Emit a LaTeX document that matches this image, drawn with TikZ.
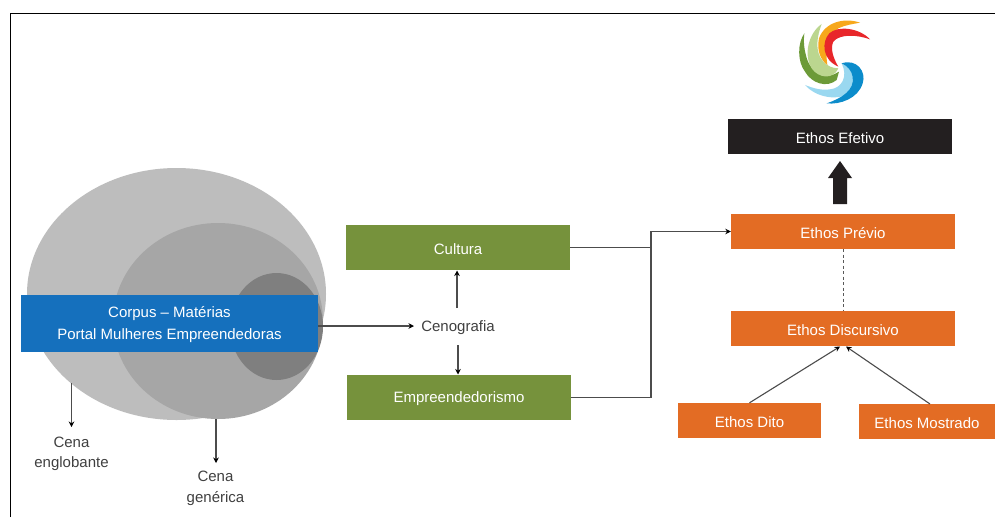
\documentclass[tikz,border=0pt]{standalone}
\usepackage{fontspec}
\setmainfont{Liberation Sans}
\usetikzlibrary{arrows.meta,shapes.geometric}
\definecolor{eo}{HTML}{E36C24}
\definecolor{eg}{HTML}{76923C}
\definecolor{eb}{HTML}{1570BD}
\definecolor{ek}{HTML}{231F20}
\definecolor{tc}{HTML}{404040}
\definecolor{gA}{HTML}{BDBDBD}
\definecolor{gB}{HTML}{A6A6A6}
\definecolor{gC}{HTML}{7F7F7F}
\definecolor{lgd}{HTML}{6C9A38}
\definecolor{lgl}{HTML}{BBD68F}
\definecolor{lor}{HTML}{F7A81B}
\definecolor{lre}{HTML}{E8262A}
\definecolor{lbl}{HTML}{0C8CCB}
\definecolor{lbk}{HTML}{9AD8F0}
\newcommand{\dnt}[1]{\raisebox{-1.5pt}[\height][\depth]{#1}}
\tikzset{
 flatbox/.style={draw=none,inner sep=0pt,text=white,font=\fontsize{15}{22}\selectfont,align=center},
 bub/.style={ellipse,draw=none,inner sep=0pt},
 lab/.style={inner sep=0pt,text=tc,font=\fontsize{15}{20.5}\selectfont,align=center},
 conn/.style={draw=black!70,line width=1.1pt,-{Stealth[length=5.5pt,width=5.5pt,black]}},
 plain/.style={draw=black!70,line width=1.1pt}
}
\begin{document}
\begin{tikzpicture}[x=1pt,y=-1pt]
\useasboundingbox (0,0) rectangle (995,517);
\fill[white] (0,0) rectangle (995,517);
\coordinate (frameA) at (10,517);
\coordinate (frameB) at (10,13);
\coordinate (frameC) at (995,13);
\draw[black,line width=1pt] (frameA) -- (frameB) -- (frameC);
% nested ellipses
\node[bub,fill=gA,minimum width=299pt,minimum height=252pt] (outer) at (176.5,294) {};
\node[bub,fill=gB,minimum width=210pt,minimum height=196pt] (mid) at (218,321) {};
\node[bub,fill=gC,minimum width=93pt,minimum height=107pt] (inner) at (276.5,326.5) {};
\node[flatbox,fill=eb,minimum width=297pt,minimum height=57pt] (corpus) at (169.5,323.5) {\dnt{Corpus – Matérias}\\\dnt{Portal Mulheres Empreendedoras}};
% green
\node[flatbox,fill=eg,minimum width=224pt,minimum height=45pt] (cultura) at (458,247.5) {\dnt{Cultura}};
\node[flatbox,fill=eg,minimum width=224pt,minimum height=45pt] (empre) at (459,397.5) {\dnt{Empreendedorismo}};
\node[lab] (ceno) at (458,327.5) {Cenografia};
% orange
\node[flatbox,fill=ek,minimum width=224pt,minimum height=35pt] (efetivo) at (840,136.5) {\dnt{Ethos Efetivo}};
\node[flatbox,fill=eo,minimum width=224pt,minimum height=35pt] (previo) at (843,231.5) {\dnt{Ethos Prévio}};
\node[flatbox,fill=eo,minimum width=224pt,minimum height=35pt] (disc) at (843,328.5) {\dnt{Ethos Discursivo}};
\node[flatbox,fill=eo,minimum width=143pt,minimum height=35pt] (dito) at (749.5,420.5) {\dnt{Ethos Dito}};
\node[flatbox,fill=eo,minimum width=136pt,minimum height=35pt] (most) at (927,421.5) {\dnt{Ethos Mostrado}};
% labels
\node[lab] (englo) at (71.5,454) {Cena\\englobante};
\node[lab] (gene) at (215.5,488.5) {Cena\\genérica};
% connectors
\coordinate (o1) at (71.5,383);
\coordinate (o2) at (71.5,427);
\coordinate (m1) at (216,419);
\coordinate (m2) at (216,463);
\coordinate (cn) at (457,308);
\coordinate (cn2) at (457,270.5);
\coordinate (cs) at (458,345);
\coordinate (cs2) at (458,374.5);
\coordinate (dt) at (840,346.5);
\coordinate (mt) at (846,346.5);
\coordinate (ms) at (930,404);
\coordinate (cw) at (414,326);
\coordinate (ce) at (318,326);
\draw[conn] (o1) -- (o2);
\draw[conn] (m1) -- (m2);
\draw[conn] (ce) -- (cw);
\draw[conn] (cn) -- (cn2);
\draw[conn] (cs) -- (cs2);
\coordinate (jn) at (651,231.5);
\draw[plain] (cultura.east) -| (jn);
\draw[conn] (empre.east) -| (jn) -- (previo.west);
\draw[draw=black!65,line width=1pt,dash pattern=on 3pt off 2.5pt] (previo.south) -- (disc.north);
\draw[conn] (dito.north) -- (dt);
\draw[conn] (ms) -- (mt);
% thick arrow
\fill[ek] (833,204) -- (833,178) -- (828,178) -- (840,161) -- (852,178) -- (847,178) -- (847,204) -- cycle;
% logo
\begin{scope}[shift={(770,0)},x=0.3333pt,y=-0.3333pt]
\fill[lgd] (103,100) .. controls (82,130) and (82,185) .. (105,215) .. controls (125,250) and (170,265) .. (200,240) -- (207,215) .. controls (170,240) and (130,225) .. (112,180) .. controls (102,150) and (100,125) .. (103,100) -- cycle;
\fill[lgl] (155,72) .. controls (115,100) and (100,165) .. (125,205) .. controls (145,235) and (190,240) .. (205,205) .. controls (170,205) and (140,175) .. (142,130) .. controls (143,110) and (148,90) .. (155,72) -- cycle;
\fill[lor] (270,68) .. controls (225,52) and (165,65) .. (147,115) .. controls (140,150) and (150,178) .. (172,195) .. controls (165,150) and (175,105) .. (205,85) .. controls (225,75) and (250,72) .. (270,68) -- cycle;
\fill[lre] (300,118) .. controls (270,85) and (205,75) .. (178,100) .. controls (155,125) and (155,178) .. (205,200) .. controls (190,175) and (180,145) .. (190,125) .. controls (210,100) and (265,105) .. (300,118) -- cycle;
\fill[lbk] (105,255) .. controls (145,300) and (225,305) .. (255,265) .. controls (270,240) and (245,205) .. (215,190) .. controls (235,230) and (215,265) .. (180,268) .. controls (155,272) and (130,265) .. (105,255) -- cycle;
\fill[lbl] (215,190) .. controls (260,175) and (290,215) .. (278,250) .. controls (265,295) and (210,315) .. (170,310) .. controls (215,295) and (255,270) .. (248,230) .. controls (245,210) and (230,197) .. (215,190) -- cycle;
\end{scope}
\end{tikzpicture}
\end{document}
